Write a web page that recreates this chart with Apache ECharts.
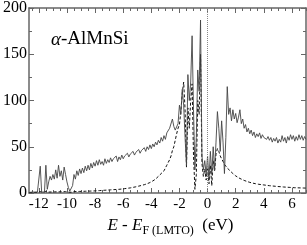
<!DOCTYPE html>
<html>
<head>
<meta charset="utf-8">
<script src="https://cdn.jsdelivr.net/npm/echarts@6/dist/echarts.min.js"></script>
<style>html,body{margin:0;padding:0;background:#fff}#c{width:307px;height:245px}</style>
</head>
<body>
<div id="c"></div>
<script>
// Energy grid (eV), 0.1 eV steps
const energy = [
-12.7,-12.6,-12.5,-12.4,-12.3,-12.2,-12.1,-12.0,
-11.9,-11.8,-11.7,-11.6,-11.5,-11.4,-11.3,-11.2,-11.1,-11.0,
-10.9,-10.8,-10.7,-10.6,-10.5,-10.4,-10.3,-10.2,-10.1,-10.0,
-9.9,-9.8,-9.7,-9.6,-9.5,-9.4,-9.3,-9.2,-9.1,-9.0,
-8.9,-8.8,-8.7,-8.6,-8.5,-8.4,-8.3,-8.2,-8.1,-8.0,
-7.9,-7.8,-7.7,-7.6,-7.5,-7.4,-7.3,-7.2,-7.1,-7.0,
-6.9,-6.8,-6.7,-6.6,-6.5,-6.4,-6.3,-6.2,-6.1,-6.0,
-5.9,-5.8,-5.7,-5.6,-5.5,-5.4,-5.3,-5.2,-5.1,-5.0,
-4.9,-4.8,-4.7,-4.6,-4.5,-4.4,-4.3,-4.2,-4.1,-4.0,
-3.9,-3.8,-3.7,-3.6,-3.5,-3.4,-3.3,-3.2,-3.1,-3.0,
-2.9,-2.8,-2.7,-2.6,-2.5,-2.4,-2.3,-2.2,-2.1,-2.0,
-1.9,-1.8,-1.7,-1.6,-1.5,-1.4,-1.3,-1.2,-1.1,-1.0,
-0.9,-0.8,-0.7,-0.6,-0.5,-0.4,-0.3,-0.2,-0.1,0.0,
0.1,0.2,0.3,0.4,0.5,0.6,0.7,0.8,0.9,1.0,
1.1,1.2,1.3,1.4,1.5,1.6,1.7,1.8,1.9,2.0,
2.1,2.2,2.3,2.4,2.5,2.6,2.7,2.8,2.9,3.0,
3.1,3.2,3.3,3.4,3.5,3.6,3.7,3.8,3.9,4.0,
4.1,4.2,4.3,4.4,4.5,4.6,4.7,4.8,4.9,5.0,
5.1,5.2,5.3,5.4,5.5,5.6,5.7,5.8,5.9,6.0,
6.1,6.2,6.3,6.4,6.5,6.6,6.7,6.8,6.9,7.0
];
// Total DOS (solid)
const totalDos = [
0.5,0.5,1,0.5,1,3,1,2,
29,1,0.5,1,30,4,12,18,14,20,
15,25,16,30,18,24,14,28,20,12,
6,2,1,8,20,15,24,19,26,21,
27,22,29,24,30,25,32,27,33,29,
35,30,36,31,34,30,37,32,36,33,
38,34,37,35,40,34,39,36,41,37,
40,38,43,39,42,40,45,41,44,42,
47,43,46,44,49,45,50,47,52,48,
53,50,55,52,57,54,60,56,62,58,
65,63,70,68,80,72,68,70,75,95,
85,112,95,60,30,128,100,120,170,90,
25,60,133,110,187,40,25,35,20,40,
15,45,20,50,25,55,88,70,45,78,
55,21,60,115,85,92,78,90,80,86,
76,82,90,75,80,70,74,66,70,64,
68,62,66,60,64,61,65,59,63,60,
62,58,61,57,60,55,59,56,60,54,
58,55,62,56,60,54,61,57,63,58,
62,56,61,57,63,58,62,57,61,58
];
// Partial DOS (dashed)
const partialDos = [
0.5,0.5,0.5,0.6,0.6,0.7,0.7,0.8,
1.5,0.8,0.8,0.9,1.8,1.0,1.0,1.1,1.1,1.2,
1.2,1.2,1.3,1.3,1.3,1.4,1.4,1.4,1.5,1.5,
1.0,0.8,0.8,1.2,1.5,1.6,1.6,1.7,1.7,1.8,
1.8,1.9,1.9,2.0,2.0,2.1,2.1,2.2,2.2,2.3,
2.4,2.5,2.6,2.7,2.8,2.9,3.0,3.1,3.2,3.3,
3.4,3.5,3.6,3.7,3.8,3.9,4.0,4.1,4.3,4.5,
4.7,4.9,5.1,5.3,5.5,5.8,6.1,6.4,6.7,7.0,
7.4,7.8,8.2,8.6,9.0,9.5,10,10.6,11.3,12,
13,14,15,16.5,18,19.5,21,22.5,24,27,
30,33,36,40,46,50,57,64,70,74,
88,108,120,90,28,92,70,100,118,40,
4,20,100,85,150,32,18,26,14,28,
10,30,8,35,24,42,48,45,40,38,
34,31,29,27,25,24,22.5,21,19.5,18.5,
17.5,16.5,15.7,15,14.3,13.6,13,12.5,12,11.5,
11,10.7,10.4,10.1,9.8,9.5,9.3,9.1,8.9,8.7,
8.5,8.3,8.1,7.9,7.8,7.6,7.5,7.3,7.2,7.0,
6.9,6.8,6.6,6.5,6.4,6.3,6.2,6.1,6.0,5.9,
5.8,5.7,5.7,5.6,5.6,5.5,5.5,5.4,5.4,5.3
];
const xTickLabels = [-12,-10,-8,-6,-4,-2,0,2,4,6];
const xMinorTicks = [-12.5,-12,-11.5,-11,-10.5,-10,-9.5,-9,-8.5,-8,-7.5,-7,-6.5,-6,-5.5,-5,-4.5,-4,-3.5,-3,-2.5,-2,-1.5,-1,-0.5,0,0.5,1,1.5,2,2.5,3,3.5,4,4.5,5,5.5,6,6.5,7];
const yTickLabels = [0,50,100,150,200];

const FONT = 'Liberation Serif';
const axisCol = '#666';
const xMin = -12.7, xMax = 7;

function xAx(pos, major, showLabel, withName) {
  const a = {
    type: 'value', min: xMin, max: xMax, position: pos,
    axisLine: { show: major, onZero: false, lineStyle: { color: axisCol, width: 1.5 } },
    axisTick: { show: true, inside: true, length: major ? 5 : 3,
      customValues: major ? xTickLabels : xMinorTicks,
      lineStyle: { color: axisCol, width: 1 } },
    axisLabel: { show: showLabel, customValues: xTickLabels, color: '#000',
      fontFamily: FONT, fontSize: 15, margin: 4 },
    splitLine: { show: false }
  };
  if (withName) {
    a.name = '{i|E} - {i|E}{s|F (LMTO)}  (eV)';
    a.nameLocation = 'middle';
    a.nameGap = 24;
    a.nameTextStyle = {
      color: '#000', fontFamily: FONT, fontSize: 17, padding: [0, 0, 0, 6],
      rich: {
        i: { fontStyle: 'italic', fontFamily: FONT, fontSize: 17, color: '#000', lineHeight: 18, verticalAlign: 'top' },
        s: { fontFamily: FONT, fontSize: 12, color: '#000', lineHeight: 14, padding: [8, 0, 0, 0], verticalAlign: 'top' }
      }
    };
  }
  return a;
}
function yAx(pos, showLabel) {
  return {
    type: 'value', min: 0, max: 200, interval: 50, position: pos,
    axisLine: { show: true, onZero: false, lineStyle: { color: axisCol, width: 1.5 } },
    axisTick: { show: true, inside: true, length: 5, lineStyle: { color: axisCol, width: 1 } },
    minorTick: { show: true, splitNumber: 2, length: 3, lineStyle: { color: axisCol, width: 1 } },
    axisLabel: { show: showLabel, color: '#000', fontFamily: FONT, fontSize: 16, margin: 2 },
    splitLine: { show: false }, minorSplitLine: { show: false }
  };
}

const chart = echarts.init(document.getElementById('c'), null, { renderer: 'canvas' });
chart.setOption({
  animation: false,
  backgroundColor: '#fff',
  grid: { left: 27, right: 1, top: 5, bottom: 52, containLabel: false },
  title: {
    text: '{a|α}{b|-AlMnSi}', left: 46, top: 25,
    textStyle: {
      fontWeight: 'normal',
      rich: {
        a: { fontFamily: FONT, fontStyle: 'italic', fontWeight: 'normal', fontSize: 19, color: '#000' },
        b: { fontFamily: FONT, fontWeight: 'normal', fontSize: 19, color: '#000' }
      }
    }
  },
  xAxis: [
    xAx('bottom', true, true, true),
    xAx('bottom', false, false, false),
    xAx('top', true, false, false),
    xAx('top', false, false, false)
  ],
  yAxis: [yAx('left', true), yAx('right', false)],
  series: [
    {
      type: 'line', xAxisIndex: 0, yAxisIndex: 0,
      data: energy.map((e, i) => [e, partialDos[i]]),
      showSymbol: false, symbol: 'none',
      lineStyle: { color: '#111', width: 1, type: [3, 2] },
      z: 2
    },
    {
      type: 'line', xAxisIndex: 0, yAxisIndex: 0,
      data: energy.map((e, i) => [e, totalDos[i]]),
      showSymbol: false, symbol: 'none',
      lineStyle: { color: '#444', width: 0.9 },
      markLine: {
        silent: true, symbol: 'none', label: { show: false },
        lineStyle: { color: '#888', type: 'dotted', width: 1 },
        data: [{ xAxis: 0 }]
      },
      z: 3
    }
  ]
});
</script>
</body>
</html>
